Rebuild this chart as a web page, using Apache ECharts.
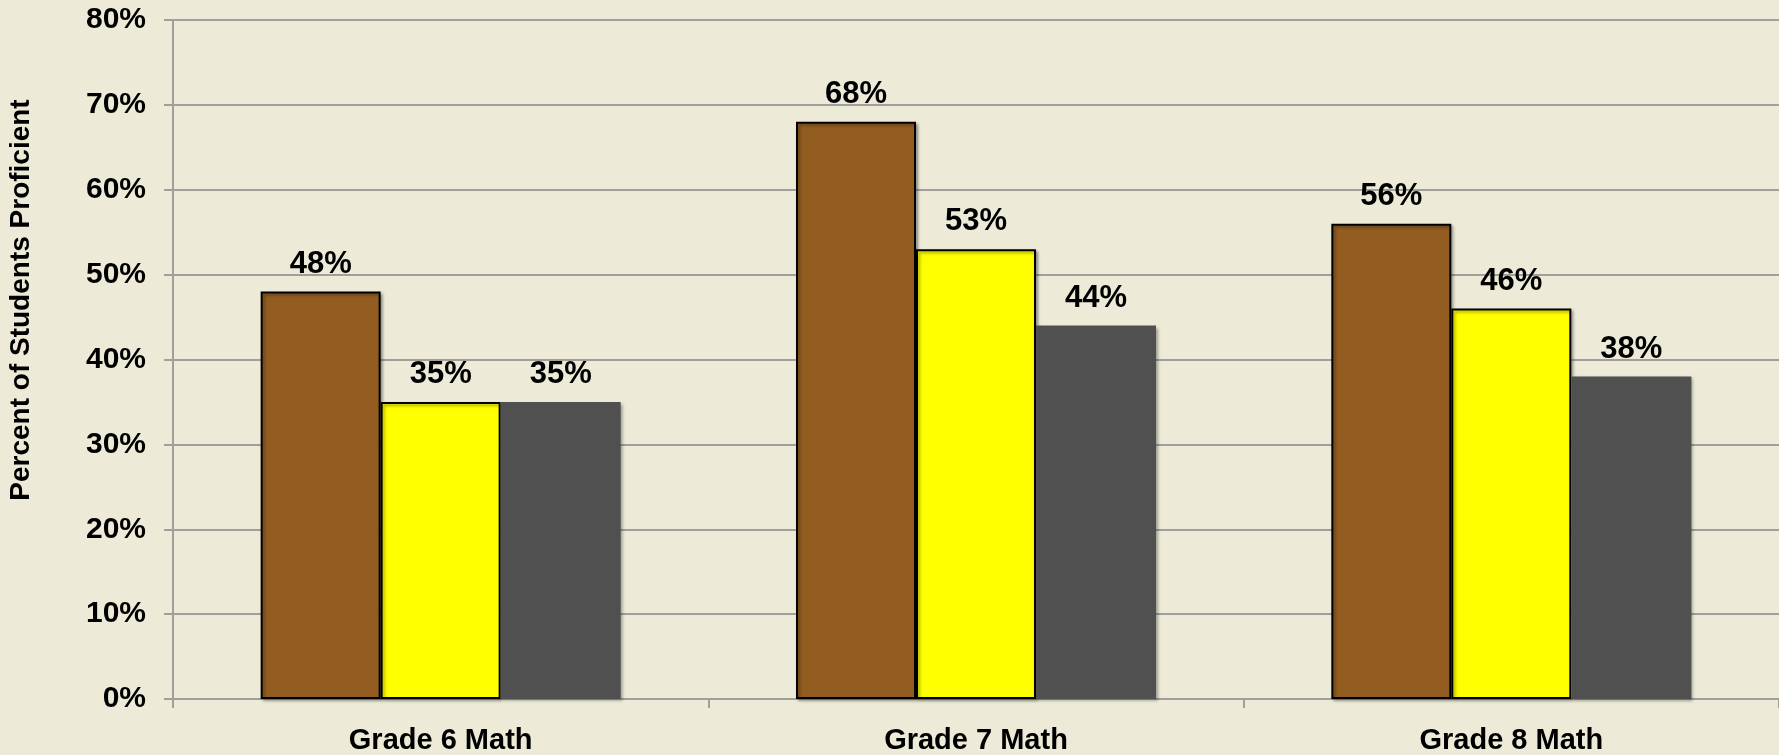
<!DOCTYPE html>
<html>
<head>
<meta charset="utf-8">
<script src="https://cdn.jsdelivr.net/npm/echarts@6/dist/echarts.min.js"></script>
<style>
  html, body { margin: 0; padding: 0; background: #EDEBD8; }
  #chart { width: 1779px; height: 755px; }
</style>
</head>
<body>
<div id="chart"></div>
<script>
const categories = ["Grade 6 Math", "Grade 7 Math", "Grade 8 Math"];
const seriesNames = ["Series 1", "Series 2", "Series 3"];
const series1 = [48, 68, 56];
const series2 = [35, 53, 46];
const series3 = [35, 44, 38];
const yTicks = [0, 10, 20, 30, 40, 50, 60, 70, 80];

const fontFamily = "Liberation Sans, Arial, sans-serif";
const gridColor = "#9F9F9C";

const chart = echarts.init(document.getElementById("chart"), null, { renderer: "canvas" });

const labelStyle = {
  show: true,
  position: "top",
  distance: 12,
  color: "#000",
  fontFamily: fontFamily,
  fontWeight: "bold",
  fontSize: 31,
  formatter: (p) => p.value + "%",
};

const shadow = {
  shadowColor: "rgba(0,0,0,0.35)",
  shadowBlur: 3,
  shadowOffsetX: 2,
  shadowOffsetY: 2,
};

const option = {
  backgroundColor: "#EDEBD8",
  animation: false,
  grid: { left: 173, right: 0, top: 20, bottom: 56, containLabel: false },
  xAxis: {
    type: "category",
    data: categories,
    axisLine: { lineStyle: { color: gridColor, width: 2 } },
    axisTick: { show: true, length: 9, lineStyle: { color: gridColor, width: 2 } },
    axisLabel: {
      color: "#000",
      fontFamily: fontFamily,
      fontWeight: "bold",
      fontSize: 29,
      margin: 27,
    },
  },
  yAxis: {
    type: "value",
    min: yTicks[0],
    max: yTicks[yTicks.length - 1],
    interval: 10,
    axisLine: { show: true, lineStyle: { color: gridColor, width: 2 } },
    axisTick: { show: true, length: 9, lineStyle: { color: gridColor, width: 2 } },
    splitLine: { lineStyle: { color: gridColor, width: 2 } },
    axisLabel: {
      color: "#000",
      fontFamily: fontFamily,
      fontWeight: "bold",
      fontSize: 30,
      margin: 27,
      formatter: (v) => v + "%",
    },
  },
  graphic: [
    {
      type: "text",
      x: 21,
      y: 300,
      rotation: Math.PI / 2,
      style: {
        text: "Percent of Students Proficient",
        fill: "#000",
        font: "bold 28px " + fontFamily,
        align: "center",
        verticalAlign: "middle",
      },
    },
  ],
  series: [
    {
      name: seriesNames[0],
      type: "bar",
      data: series1,
      barWidth: 120,
      barGap: "0%",
      itemStyle: Object.assign({ color: "#935D22", borderColor: "#000", borderWidth: 2 }, shadow),
      label: labelStyle,
    },
    {
      name: seriesNames[1],
      type: "bar",
      data: series2,
      barWidth: 120,
      barGap: "0%",
      itemStyle: Object.assign({ color: "#FFFF00", borderColor: "#000", borderWidth: 2 }, shadow),
      label: labelStyle,
    },
    {
      name: seriesNames[2],
      type: "bar",
      data: series3,
      barWidth: 120,
      barGap: "0%",
      itemStyle: Object.assign({ color: "#505050" }, shadow),
      label: labelStyle,
    },
  ],
};

chart.setOption(option);
</script>
</body>
</html>
